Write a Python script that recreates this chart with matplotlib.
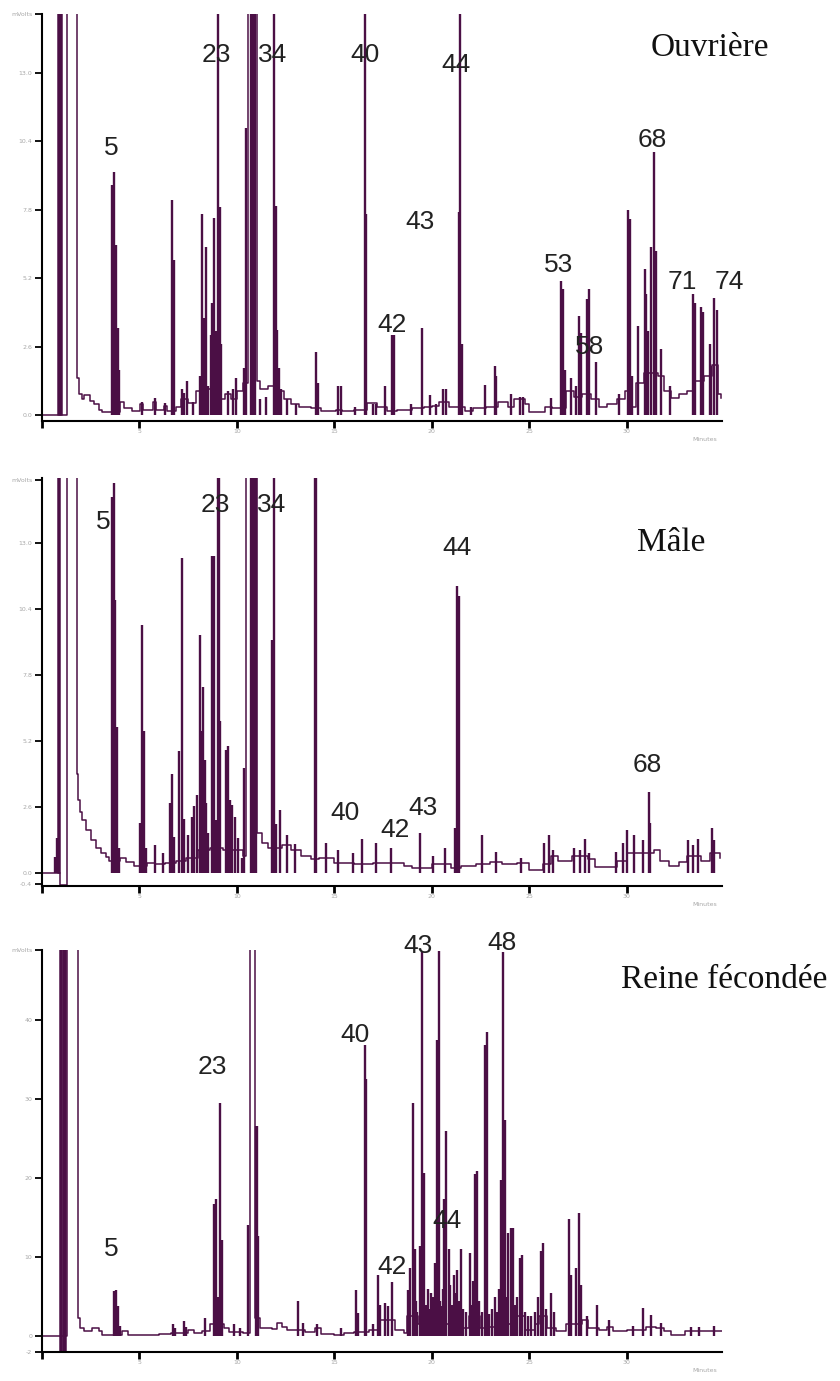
import matplotlib
matplotlib.use('Agg')
import matplotlib.pyplot as plt

line_color = '#4b0f45'
OFF = 99.0   # peaks running off the top of the scale

# ----------------------------------------------------------------------
# Ouvrière (top chromatogram)
ouv_trace = [(0.0, 0.0), (1.27, OFF), (1.78, 1.4), (1.92, 0.8), (2.05, 0.6), (2.15, 0.76), (2.45, 0.55),
             (2.65, 0.4), (2.9, 0.2), (3.1, 0.13), (4.0, 0.5), (4.2, 0.25), (4.6, 0.15), (5.05, 0.4), (5.2, 0.2),
             (5.7, 0.5), (5.85, 0.2), (6.25, 0.35), (6.4, 0.15), (6.9, 0.3), (7.15, 0.6), (7.5, 0.45), (7.9, 0.9),
             (8.2, 1.0), (9.1, 0.6), (9.4, 0.8), (9.7, 0.6), (10.0, 0.9), (10.3, 1.2), (10.58, OFF), (11.04, 1.3),
             (11.2, 1.0), (11.6, 1.1), (12.1, 0.9), (12.4, 0.6), (12.8, 0.4), (13.2, 0.3), (13.8, 0.25), (14.3, 0.15),
             (15.1, 0.2), (15.4, 0.15), (16.0, 0.2), (16.7, 0.45), (17.2, 0.3), (17.7, 0.15), (18.2, 0.2), (19.0, 0.25),
             (19.6, 0.3), (20.0, 0.35), (20.4, 0.5), (20.9, 0.3), (21.7, 0.15), (22.1, 0.25), (22.8, 0.3), (23.4, 0.5),
             (23.9, 0.3), (24.2, 0.6), (24.8, 0.4), (25.0, 0.1), (25.8, 0.3), (26.2, 0.25), (26.9, 0.9), (27.3, 0.7),
             (27.7, 0.8), (28.2, 0.6), (28.6, 0.3), (29.0, 0.4), (29.5, 0.6), (29.9, 0.9), (30.3, 0.3), (30.5, 1.2),
             (30.9, 1.6), (31.6, 1.5), (31.9, 0.9), (32.3, 0.65), (32.7, 0.8), (33.1, 0.9), (33.5, 1.3), (34.0, 1.5),
             (34.4, 1.9), (34.7, 0.8), (34.86, 0.65)]
ouv_solvent = [0.80, 0.87, 0.94, 1.0]
ouv_peaks = [(3.57, 8.74), (3.69, 9.25), (3.79, 6.46), (3.88, 3.29), (3.97, 1.71),
             (5.11, 0.5), (5.79, 0.65), (6.31, 0.45), (6.68, 8.17), (6.79, 5.89),
             (7.21, 1.0), (7.28, 0.85), (7.42, 1.3), (7.76, 0.5),
             (8.1, 1.5), (8.22, 7.65), (8.31, 3.7), (8.41, 6.4), (8.53, 1.1),
             (8.67, 3.06), (8.75, 4.26), (8.82, 7.5), (8.91, 3.2),
             (9.03, OFF), (9.13, 7.9), (9.21, 2.7), (9.56, 0.9), (9.78, 1.0), (9.95, 1.4),
             (10.36, 1.8), (10.46, 10.9), (10.75, OFF), (10.82, OFF), (10.88, OFF), (10.95, OFF),
             (11.18, 0.6), (11.52, 0.7), (11.91, OFF), (12.0, 7.95), (12.08, 3.25), (12.17, 1.8), (12.29, 1.0),
             (12.55, 0.6), (13.06, 0.4), (14.05, 2.4), (14.17, 1.2), (15.2, 1.1), (15.33, 1.1), (16.05, 0.3),
             (16.56, OFF), (16.65, 7.65), (16.99, 0.4), (17.16, 0.4), (17.59, 1.1),
             (17.98, 3.06), (18.05, 3.06), (18.96, 0.4), (19.52, 3.3), (19.93, 0.75), (20.24, 0.4),
             (20.58, 1.0), (20.72, 1.0), (21.38, 7.7), (21.44, OFF), (21.57, 2.7),
             (22.04, 0.3), (22.72, 1.15), (23.23, 1.85), (23.32, 1.5), (24.08, 0.8), (24.51, 0.7), (24.68, 0.7),
             (26.14, 0.65), (26.65, 5.1), (26.74, 4.8), (26.82, 1.7), (27.17, 1.4), (27.42, 1.1),
             (27.56, 3.76), (27.67, 3.1), (27.97, 4.4), (28.07, 4.78), (28.44, 2.0),
             (29.64, 0.8), (30.07, 7.8), (30.19, 7.45), (30.29, 1.5), (30.58, 3.4), (30.93, 5.55), (31.01, 4.6),
             (31.09, 3.2), (31.27, 6.4), (31.39, 10.0), (31.49, 6.25), (31.78, 2.5), (32.21, 1.1),
             (33.41, 4.6), (33.49, 4.25), (33.83, 4.1), (33.92, 3.9), (34.26, 2.7), (34.34, 1.85),
             (34.51, 4.45), (34.63, 4.0)]
ouv_labels = [('5', 3.54, 10.15), ('23', 8.97, 13.7), ('34', 11.85, 13.7), ('40', 16.56, 13.7),
              ('44', 21.23, 13.3), ('43', 19.38, 7.34), ('42', 17.95, 3.42), ('53', 26.51, 5.7),
              ('58', 28.1, 2.58), ('68', 31.33, 10.45), ('71', 32.87, 5.05), ('74', 35.28, 5.05)]
ouv_yticks = [0.0, 2.6, 5.2, 7.8, 10.4, 13.0, 15.24]
ouv_yticklabels = ['0.0', '2.6', '5.2', '7.8', '10.4', '13.0', 'mVolts']

# ----------------------------------------------------------------------
# Mâle (middle chromatogram)
male_trace = [(0.0, 0.0), (0.92, -0.46), (1.27, OFF), (1.78, 3.93), (1.86, 2.9), (1.94, 2.4), (2.06, 2.1),
              (2.26, 1.7), (2.52, 1.3), (2.77, 1.0), (3.03, 0.8), (3.28, 0.65), (3.45, 0.5), (4.0, 0.6),
              (4.3, 0.45), (4.7, 0.3), (5.4, 0.4), (5.8, 0.35), (6.3, 0.4), (6.9, 0.5), (7.4, 0.6), (8.0, 0.9),
              (8.6, 1.0), (9.3, 0.9), (10.3, 0.7), (10.46, OFF), (11.04, 1.6), (11.3, 1.2), (11.6, 1.0),
              (12.3, 1.1), (12.8, 0.9), (13.3, 0.7), (13.8, 0.55), (14.2, 0.6), (15.0, 0.4), (16.0, 0.35),
              (17.0, 0.4), (18.0, 0.4), (18.6, 0.3), (19.0, 0.2), (20.0, 0.35), (21.0, 0.2), (21.5, 0.3),
              (22.3, 0.35), (23.0, 0.45), (23.6, 0.35), (24.4, 0.4), (25.0, 0.15), (25.7, 0.35), (26.1, 0.7),
              (26.5, 0.5), (27.2, 0.7), (28.0, 0.55), (28.4, 0.25), (29.0, 0.25), (29.5, 0.5), (30.0, 0.8),
              (30.6, 0.8), (31.4, 0.9), (31.7, 0.5), (32.2, 0.3), (32.7, 0.45), (33.1, 0.7), (33.8, 0.5),
              (34.3, 0.8), (34.8, 0.6)]
male_solvent = [0.82, 0.88]
male_peaks = [(0.67, 0.65), (0.75, 1.4),
              (3.57, 14.8), (3.69, 15.38), (3.74, 10.75), (3.86, 5.76), (3.95, 1.0),
              (5.03, 2.0), (5.13, 9.77), (5.23, 5.6), (5.33, 1.0), (5.79, 1.1), (6.22, 0.8),
              (6.56, 2.75), (6.68, 3.9), (6.77, 1.45), (7.04, 4.8), (7.2, 12.4), (7.28, 2.15),
              (7.5, 1.5), (7.68, 2.2), (7.79, 2.65), (7.93, 3.1),
              (8.1, 9.4), (8.19, 5.6), (8.27, 7.34), (8.36, 4.45), (8.44, 2.75), (8.53, 1.6),
              (8.7, 12.5), (8.82, 12.5), (8.92, 2.1), (9.04, OFF), (9.09, OFF), (9.16, 6.0),
              (9.44, 4.85), (9.56, 5.0), (9.64, 2.9), (9.76, 2.7), (9.9, 2.2), (10.07, 1.4), (10.24, 0.6),
              (10.36, 4.15), (10.75, OFF), (10.82, OFF), (10.9, OFF), (10.97, OFF),
              (11.81, 9.2), (11.86, 9.2), (11.91, OFF), (12.03, 1.95), (12.2, 2.5), (12.55, 1.5), (12.97, 1.15),
              (14.0, OFF), (14.05, OFF), (14.6, 1.2), (15.2, 0.9), (15.97, 0.8), (16.44, 1.35), (17.16, 1.2),
              (17.93, 1.0), (19.38, 1.6), (20.07, 0.7), (20.67, 1.0),
              (21.18, 1.8), (21.3, 11.3), (21.38, 10.9), (22.6, 1.5), (23.31, 0.85), (24.6, 0.6),
              (25.79, 1.2), (26.02, 1.5), (26.22, 0.9), (27.33, 1.0), (27.59, 0.9), (27.85, 1.35), (28.1, 0.8),
              (29.47, 0.85), (29.81, 1.2), (30.02, 1.7), (30.41, 1.5), (30.84, 1.3), (31.14, 3.2), (31.21, 2.0),
              (33.15, 1.3), (33.4, 1.1), (33.66, 1.35), (34.39, 1.8), (34.51, 1.3)]
male_labels = [('5', 3.13, 13.83), ('23', 8.92, 14.5), ('34', 11.8, 14.5), ('44', 21.28, 12.8),
               ('68', 31.08, 4.26), ('40', 15.54, 2.36), ('42', 18.1, 1.69), ('43', 19.54, 2.56)]
male_yticks = [-0.4, 0.0, 2.6, 5.2, 7.8, 10.4, 13.0, 15.5]
male_yticklabels = ['-0.4', '0.0', '2.6', '5.2', '7.8', '10.4', '13.0', 'mVolts']

# ----------------------------------------------------------------------
# Reine fécondée (bottom chromatogram)
reine_trace = [(0.0, 0.0), (1.27, OFF), (1.86, 2.3), (1.95, 1.05), (2.15, 0.6), (2.55, 1.05), (2.9, 0.6),
               (3.1, 0.2), (4.1, 0.6), (4.4, 0.2), (5.0, 0.1), (6.0, 0.25), (6.6, 0.4), (7.5, 0.8), (7.8, 0.4),
               (8.2, 0.7), (8.6, 1.5), (9.35, 1.0), (9.6, 0.5), (10.3, 0.4), (10.67, OFF), (10.92, 2.3),
               (11.2, 1.0), (11.8, 0.9), (12.05, 1.7), (12.3, 1.2), (12.6, 0.8), (13.5, 0.5), (14.0, 1.0),
               (14.3, 0.3), (15.0, 0.1), (15.5, 0.4), (16.0, 0.5), (16.8, 0.8), (17.3, 2.0), (18.1, 0.8),
               (18.6, 0.4), (18.75, 2.5), (19.3, 1.5), (20.0, 2.0), (20.5, 1.5), (21.0, 2.5), (21.6, 1.0),
               (21.9, 2.5), (22.5, 1.0), (22.9, 1.2), (23.3, 2.0), (23.5, 1.5), (24.3, 2.5), (24.8, 0.8),
               (25.3, 1.5), (25.5, 2.5), (25.9, 1.0), (26.4, 0.6), (26.9, 1.5), (27.7, 2.0), (28.0, 1.0),
               (28.6, 0.8), (29.0, 1.2), (29.3, 0.7), (30.0, 0.8), (30.6, 0.8), (31.0, 1.2), (31.5, 1.0),
               (31.9, 0.7), (32.3, 0.2), (33.0, 0.6), (34.0, 0.7), (34.9, 0.7)]
reine_solvent = [0.92, 0.99, 1.06, 1.13, 1.2]
reine_peaks = [(3.69, 5.7), (3.79, 5.9), (3.88, 3.8), (4.0, 1.3),
               (6.74, 1.5), (6.82, 1.0), (7.28, 1.9), (7.38, 1.2), (8.36, 2.3),
               (8.82, 16.7), (8.92, 17.3), (9.04, 5.0), (9.15, 29.5), (9.23, 12.2),
               (9.86, 1.5), (10.15, 1.0), (10.58, 14.1), (10.97, 26.6), (11.02, 26.6), (11.1, 12.7),
               (13.15, 4.4), (13.4, 1.7), (14.09, 1.5), (15.33, 1.0),
               (16.1, 5.9), (16.22, 2.9), (16.56, 36.9), (16.65, 32.5),
               (16.99, 1.5), (17.25, 7.8), (17.37, 4.0), (17.59, 4.2), (17.76, 3.8), (17.98, 6.9),
               (18.79, 5.9), (18.91, 8.6), (19.04, 29.5), (19.13, 11.0), (19.2, 4.5), (19.27, 3.0),
               (19.38, 11.4), (19.5, 48.6), (19.61, 20.7), (19.7, 4.0), (19.8, 6.0), (19.9, 3.5),
               (19.98, 5.5), (20.05, 5.0), (20.15, 9.2), (20.27, 37.5), (20.38, 48.7), (20.45, 4.5),
               (20.5, 3.8), (20.57, 6.0), (20.63, 17.3), (20.75, 25.9), (20.87, 11.0), (20.95, 6.5), (21.05, 4.0),
               (21.13, 7.8), (21.2, 5.5), (21.3, 8.4), (21.38, 4.5), (21.49, 11.0), (21.6, 3.5), (21.75, 3.0),
               (21.95, 10.5), (22.05, 4.0), (22.12, 7.0), (22.21, 20.5), (22.33, 20.9), (22.45, 4.5), (22.6, 3.0),
               (22.73, 36.9), (22.84, 38.5), (22.95, 2.8), (23.1, 3.5), (23.23, 5.0), (23.35, 3.0), (23.45, 6.0),
               (23.54, 19.8), (23.66, 48.6), (23.74, 27.4), (23.82, 5.0),
               (23.91, 13.1), (24.05, 13.7), (24.17, 13.7), (24.3, 4.0), (24.38, 5.0),
               (24.51, 9.9), (24.65, 10.3), (24.8, 3.0), (24.95, 2.5), (25.11, 2.6), (25.3, 3.0), (25.45, 5.0),
               (25.62, 10.8), (25.71, 11.8), (25.85, 3.5), (26.14, 5.5), (26.3, 3.0),
               (27.04, 14.8), (27.13, 7.8), (27.42, 8.6), (27.56, 15.6), (27.64, 6.5),
               (27.97, 2.5), (28.48, 4.0), (29.09, 2.1),
               (30.32, 1.3), (30.84, 3.6), (31.27, 2.7), (31.78, 1.7),
               (33.32, 1.2), (33.74, 1.2), (34.51, 1.3)]
reine_labels = [('5', 3.54, 11.0), ('23', 8.72, 34.1), ('40', 16.05, 38.1), ('43', 19.28, 49.4),
                ('48', 23.59, 49.8), ('44', 20.77, 14.6), ('42', 17.95, 8.7)]
reine_yticks = [-2, 0, 10, 20, 30, 40, 48.8]
reine_yticklabels = ['-2', '0', '10', '20', '30', '40', 'mVolts']

x_ticks = [0, 5, 10, 15, 20, 25, 30]
x_ticklabels = ['', '5', '10', '15', '20', '25', '30']


def draw_panel(ax, trace, solvent, solvent_floor, peaks, labels, yticks, yticklabels, ylim, title, title_pos):
    tt, tv = zip(*trace)
    ax.plot(tt, tv, drawstyle='steps-post', color=line_color, linewidth=1.1)
    ax.vlines(solvent, solvent_floor, OFF, color=line_color, linewidth=1.8)
    pt, pv = zip(*peaks)
    ax.vlines(pt, 0, pv, color=line_color, linewidth=1.7)

    for text, x, y in labels:
        ax.text(x, y, text, ha='center', va='center', fontsize=19, family='Liberation Sans',
                color='#222222', clip_on=False)
    ax.text(title_pos[0], title_pos[1], title, ha='center', va='center', fontsize=24,
            family='Liberation Serif', color='#111111')

    ax.set_xlim(0, 34.9)
    ax.set_ylim(ylim)
    ax.set_xticks(x_ticks)
    ax.set_xticklabels(x_ticklabels)
    ax.set_yticks(yticks)
    ax.set_yticklabels(yticklabels)

    for side in ['top', 'right']:
        ax.spines[side].set_visible(False)
    for side in ['left', 'bottom']:
        ax.spines[side].set_linewidth(1.5)
        ax.spines[side].set_color('black')

    ax.tick_params(axis='y', direction='out', length=5, width=1.3, labelsize=4.5,
                   labelcolor='#a8a8a8', pad=2)
    ax.tick_params(axis='x', direction='out', length=5, width=2, labelsize=4.5,
                   labelcolor='#a8a8a8', pad=1)
    ax.text(0.975, -0.05, 'Minutes', transform=ax.transAxes, fontsize=4.5, color='#a8a8a8', ha='center')


fig = plt.figure(figsize=(8.4, 13.81), dpi=100)

ax1 = fig.add_axes([0.05, 0.6951, 0.8095, 0.2947])
draw_panel(ax1, ouv_trace, ouv_solvent, 0, ouv_peaks, ouv_labels, ouv_yticks, ouv_yticklabels,
           (-0.23, 15.24), 'Ouvrière', (34.26, 13.95))

ax2 = fig.add_axes([0.05, 0.3584, 0.8095, 0.2954])
draw_panel(ax2, male_trace, male_solvent, 0, male_peaks, male_labels, male_yticks, male_yticklabels,
           (-0.5, 15.56), 'Mâle', (32.3, 13.0))

ax3 = fig.add_axes([0.05, 0.0210, 0.8095, 0.2911])
draw_panel(ax3, reine_trace, reine_solvent, -2, reine_peaks, reine_labels, reine_yticks, reine_yticklabels,
           (-2, 48.86), 'Reine fécondée', (35.03, 45.1))

plt.savefig('out.png', dpi=100)
